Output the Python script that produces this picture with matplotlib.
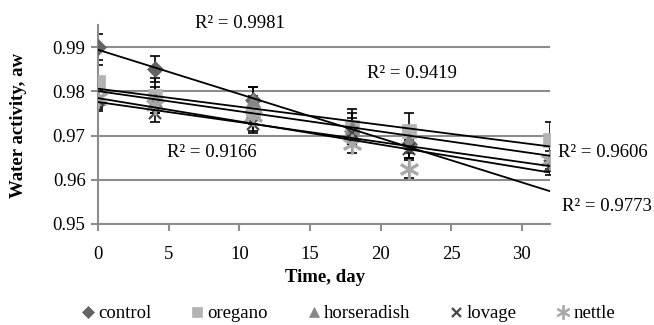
import matplotlib.pyplot as plt
from matplotlib.lines import Line2D
import numpy as np

# data
days = [0, 4, 11, 18, 22, 32]
control = [0.990, 0.985, 0.978, 0.971, 0.968]          # no value on day 32
oregano = [0.982, 0.979, 0.975, 0.972, 0.971, 0.969]
horseradish = [0.9785, 0.978, 0.978, 0.972, 0.969, 0.965]
lovage = [0.978, 0.975, 0.9725, 0.9705, 0.967, 0.963]
nettle = [0.9785, 0.977, 0.9745, 0.968, 0.9625, 0.9645]
errors = [0.003, 0.004, 0.003, 0.002, 0.002]

names = ['control', 'oregano', 'horseradish', 'lovage', 'nettle']
r2_labels = ['R² = 0.9981', 'R² = 0.9419', 'R² = 0.9166', 'R² = 0.9606', 'R² = 0.9773']

plt.rcParams['font.family'] = ['Liberation Serif', 'DejaVu Serif']
plt.rcParams['font.size'] = 13.5

markers = ['D', 's', '^', 'x', '$\u2217$']
colors = ['#636363', '#b3b3b3', '#878787', '#474747', '#a8a8a8']
msizes = [8, 10, 10, 9, 14]
mew = [0.5, 0.5, 0.5, 1.6, 0.5]

fig = plt.figure(figsize=(6.54, 3.25), dpi=100)
ax = fig.add_axes([0.150, 0.311, 0.691, 0.612])

series = [control, oregano, horseradish, lovage, nettle]
for i, vals in enumerate(series):
    t = days[:len(vals)]
    ax.errorbar(t, vals, yerr=errors[i], fmt='none', ecolor='black',
                elinewidth=1.2, capsize=3.5, capthick=1.2, zorder=2)
for i, vals in enumerate(series):
    t = days[:len(vals)]
    ax.plot(t, vals, linestyle='none', marker=markers[i], color=colors[i],
            markersize=msizes[i], markeredgewidth=mew[i], zorder=3)

# linear trend lines, extended to day 32
xfit = np.array([0, 32])
for vals in series:
    t = days[:len(vals)]
    k, b = np.polyfit(t, vals, 1)
    ax.plot(xfit, k * xfit + b, color='black', linewidth=1.3, zorder=4)

ax.set_xlim(0, 32)
ax.set_ylim(0.95, 0.995)
ax.set_xticks([0, 5, 10, 15, 20, 25, 30])
ax.set_yticks([0.95, 0.96, 0.97, 0.98, 0.99])
ax.set_yticklabels(['0.95', '0.96', '0.97', '0.98', '0.99'])
ax.yaxis.grid(True, color='#8c8c8c', linewidth=1.5)
ax.set_axisbelow(True)
for s in ['top', 'right']:
    ax.spines[s].set_visible(False)
for s in ['left', 'bottom']:
    ax.spines[s].set_color('#8c8c8c')
    ax.spines[s].set_linewidth(1.5)
ax.tick_params(axis='both', direction='out', length=5, width=1.5, color='#8c8c8c',
               labelsize=13.5, pad=4)
ax.tick_params(axis='x', pad=11)

fig.text(0.497, 0.145, 'Time, day', ha='center', va='center', fontweight='bold', fontsize=13.5)
fig.text(0.028, 0.615, 'Water activity, aw', ha='center', va='center', rotation=90,
         fontweight='bold', fontsize=13.5)

# R² annotations
fig.text(0.367, 0.929, r2_labels[0], ha='center', va='center')
fig.text(0.630, 0.775, r2_labels[1], ha='center', va='center')
fig.text(0.324, 0.532, r2_labels[2], ha='center', va='center')
fig.text(0.853, 0.532, r2_labels[3], ha='left', va='center')
fig.text(0.859, 0.366, r2_labels[4], ha='left', va='center')

handles = [Line2D([], [], linestyle='none', marker=markers[i], color=colors[i],
                  markersize=msizes[i] * 0.72, markeredgewidth=mew[i])
           for i in range(len(names))]
fig.legend(handles, names, loc='center', bbox_to_anchor=(0.532, 0.035), ncol=5,
           frameon=False, fontsize=13.5, handlelength=0.7, handletextpad=0.2,
           columnspacing=2.1, borderpad=0)

fig.savefig('out.png', dpi=100)
